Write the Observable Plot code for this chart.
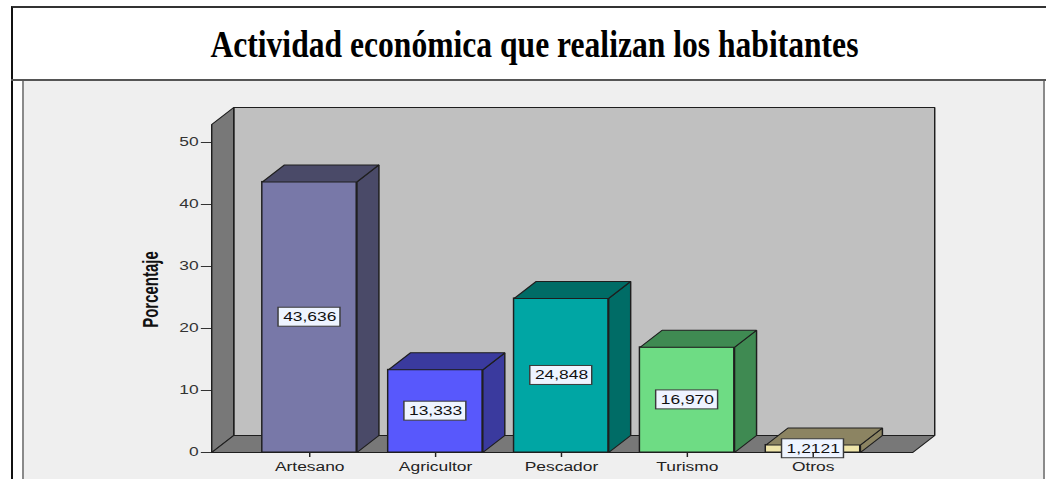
<!DOCTYPE html>
<html>
<head>
<meta charset="utf-8">
<script src="https://cdn.jsdelivr.net/npm/d3@7"></script>
<script src="https://cdn.jsdelivr.net/npm/@observablehq/plot@0.6"></script>
<style>
  html, body { margin: 0; padding: 0; background: #ffffff; }
  body { position: relative; width: 1046px; height: 479px; overflow: hidden; }
  #outer { position: absolute; left: 11px; top: 6px; width: 1100px; height: 520px;
           border-top: 2px solid #333; border-left: 2px solid #111; box-sizing: border-box; }
  #rowline { position: absolute; left: 11px; top: 79px; width: 1040px; height: 2px; background: #555; }
  #chartbg { position: absolute; left: 22px; top: 81px; width: 1023px; height: 400px;
             background: #efefef; border-left: 2px solid #8a8a8a; border-right: 2px solid #8a8a8a; box-sizing: border-box; }
  #title { position: absolute; left: 0; top: 26px; width: 1068px; text-align: center; }
  #title span { display: inline-block; font: bold 37px "Liberation Serif", "Times New Roman", serif;
                line-height: 1; color: #000; white-space: nowrap; transform-origin: 50% 50%; }
  #chart { position: absolute; left: 0; top: 79px; }
  #chart svg { transform-origin: 0 0; overflow: visible; }
</style>
</head>
<body>
<div id="outer"></div>
<div id="rowline"></div>
<div id="chartbg"></div>
<div id="title"><span>Actividad económica que realizan los habitantes</span></div>
<div id="chart"></div>
<script>
// ---- data ----
const categories = ["Artesano", "Agricultor", "Pescador", "Turismo", "Otros"];
const values = [43.636, 13.333, 24.848, 16.970, 1.2121];
const valueLabels = ["43,636", "13,333", "24,848", "16,970", "1,2121"];
const frontColors = ["#7878a8", "#5858fc", "#00a6a4", "#6edc84", "#f0e6aa"];
const sideColors = ["#4a4a68", "#3a3a9e", "#006c66", "#3f8a52", "#8c8462"];
const yTicks = [0, 10, 20, 30, 40, 50];
const yLabel = "Porcentaje";

// ---- layout (chart is drawn narrow, then stretched horizontally like the original) ----
const W0 = 721, H = 400;
const S = 1046 / W0;
const xDomain = [-0.7786, 4.7905];
const yDomain = [0, 52.9];
const DX = 0.1748;   // depth offset, x units
const DY = 2.742;    // depth offset, y units
const HW = 0.375;    // half bar width, x units
const BW = 0.246, BH = 1.53; // half size of value boxes

const bars = categories.map((c, i) => ({i, c, v: values[i], label: valueLabels[i], front: frontColors[i], side: sideColors[i]}));

const [x0, x1] = xDomain, yTop = yDomain[1];
const polys = [];
function poly(id, fill, pts) { pts.concat([pts[0]]).forEach(([x, y]) => polys.push({id, fill, x, y})); }
poly("back", "#c0c0c0", [[x0 + DX, DY], [x1 + DX, DY], [x1 + DX, yTop + DY], [x0 + DX, yTop + DY]]);
poly("left", "#787878", [[x0, 0], [x0, yTop], [x0 + DX, yTop + DY], [x0 + DX, DY]]);
poly("floor", "#787878", [[x0, 0], [x1, 0], [x1 + DX, DY], [x0 + DX, DY]]);
const faces = [];
function face(id, fill, pts) { pts.concat([pts[0]]).forEach(([x, y]) => faces.push({id, fill, x, y})); }
bars.forEach(b => {
  face("s" + b.i, b.side, [[b.i + HW, 0], [b.i + HW, b.v], [b.i + HW + DX, b.v + DY], [b.i + HW + DX, DY]]);
  face("t" + b.i, b.side, [[b.i - HW, b.v], [b.i + HW, b.v], [b.i + HW + DX, b.v + DY], [b.i - HW + DX, b.v + DY]]);
});

const plot = Plot.plot({
  width: W0, height: H,
  marginLeft: 211 / S, marginRight: W0 - 912 / S, marginTop: 45, marginBottom: 27,
  x: {domain: xDomain},
  y: {domain: yDomain},
  color: {type: "identity"},
  style: {fontFamily: "'Liberation Sans', Arial, sans-serif", fontSize: "12px", background: "transparent", overflow: "visible"},
  marks: [
    Plot.line(polys, {x: "x", y: "y", z: "id", fill: "fill", stroke: "#1e1e1e", strokeWidth: 1, strokeLinejoin: "miter"}),
    Plot.rect(bars, {x1: d => d.i - HW, x2: d => d.i + HW, y1: 0, y2: "v", fill: "front", stroke: "#1e1e1e", strokeWidth: 1}),
    Plot.line(faces, {x: "x", y: "y", z: "id", fill: "fill", stroke: "#1e1e1e", strokeWidth: 1, strokeLinejoin: "miter"}),
    Plot.rect(bars, {x1: d => d.i - BW, x2: d => d.i + BW, y1: d => d.v / 2 - BH, y2: d => d.v / 2 + BH,
                     fill: "#eef4ff", stroke: "#3a3a3a", strokeWidth: 1}),
    Plot.text(bars, {x: "i", y: d => d.v / 2, text: "label", fontSize: 12, fill: "#111"}),
    Plot.axisY(yTicks, {tickSize: 7, tickPadding: 2, fontSize: 12, color: "#333", label: null}),
    Plot.axisX(bars.map(d => d.i), {tickFormat: i => categories[i], tickSize: 5, tickPadding: 5, fontSize: 12, color: "#222", label: null}),
    Plot.text([yLabel], {frameAnchor: "left", textAnchor: "middle", lineAnchor: "middle", dx: 150 / S - 211 / S, dy: 1,
                         rotate: -90, fontSize: 15, fontWeight: "bold", fill: "#111"})
  ]
});
plot.style.transform = `scaleX(${S})`;
document.getElementById("chart").appendChild(plot);

// fit title width like the reference
const span = document.querySelector("#title span");
const w = span.getBoundingClientRect().width;
span.style.transform = `scaleX(${648 / w})`;
</script>
</body>
</html>
